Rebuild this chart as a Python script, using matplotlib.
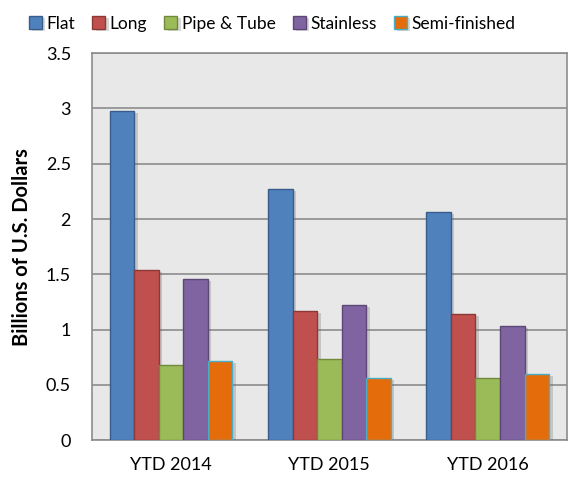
import matplotlib.pyplot as plt
import matplotlib.patheffects as pe
import numpy as np

# --- Data ---------------------------------------------------------------------
PERIODS = ["YTD 2014", "YTD 2015", "YTD 2016"]
PRODUCTS = ["Flat", "Long", "Pipe & Tube", "Stainless", "Semi-finished"]
FLAT = [2.98, 2.27, 2.06]
LONG = [1.54, 1.17, 1.14]
PIPE = [0.68, 0.73, 0.56]
STAINLESS = [1.46, 1.22, 1.03]
SEMI = [0.72, 0.56, 0.60]

SERIES = [FLAT, LONG, PIPE, STAINLESS, SEMI]
FACE = ["#4F81BD", "#C0504D", "#9BBB59", "#8064A2", "#E46C0A"]
EDGE = ["#385D8A", "#8C3836", "#71893F", "#5C4776", "#4BACC6"]

plt.rcParams['font.family'] = ['Lato', 'DejaVu Sans']

# --- Plot ---------------------------------------------------------------------
fig = plt.figure(figsize=(5.85, 4.79), dpi=100)
ax = fig.add_axes([0.157, 0.081, 0.812, 0.808])
ax.set_facecolor("#E8E8E8")

x = np.arange(len(PERIODS))
width = 0.155
shadow = [pe.SimplePatchShadow(offset=(2.5, -1.5), alpha=0.25, shadow_rgbFace="#606060"),
          pe.Normal()]

for i, (name, vals) in enumerate(zip(PRODUCTS, SERIES)):
    offs = (i - 2) * width
    bars = ax.bar(x + offs, vals, width, color=FACE[i], edgecolor=EDGE[i],
                  linewidth=1.0, label=name, zorder=3)
    for b in bars:
        b.set_path_effects(shadow)

ax.set_xlim(-0.5, 2.5)
ax.set_ylim(0, 3.5)
ax.set_yticks(np.arange(0, 3.51, 0.5))
ax.set_yticklabels(["0", "0.5", "1", "1.5", "2", "2.5", "3", "3.5"])
ax.set_xticks(x)
ax.set_xticklabels(PERIODS)
ax.tick_params(axis='both', length=0, labelsize=13)
ax.tick_params(axis='x', pad=12)
ax.tick_params(axis='y', pad=15)
ax.grid(axis='y', color="#8C8C8C", linewidth=1.2, zorder=0)
ax.set_axisbelow(True)
for s in ax.spines.values():
    s.set_color("#8C8C8C")
    s.set_linewidth(1.2)

ax.set_ylabel("Billions of U.S. Dollars", fontsize=14.5, fontweight='bold', labelpad=10)

fig.legend(loc='upper center', bbox_to_anchor=(0.465, 1.0), ncol=5, frameon=False,
           fontsize=12.5, handlelength=0.75, handleheight=0.75, handletextpad=0.25,
           columnspacing=1.0, borderaxespad=0.5)

plt.savefig('out.png', dpi=100)
